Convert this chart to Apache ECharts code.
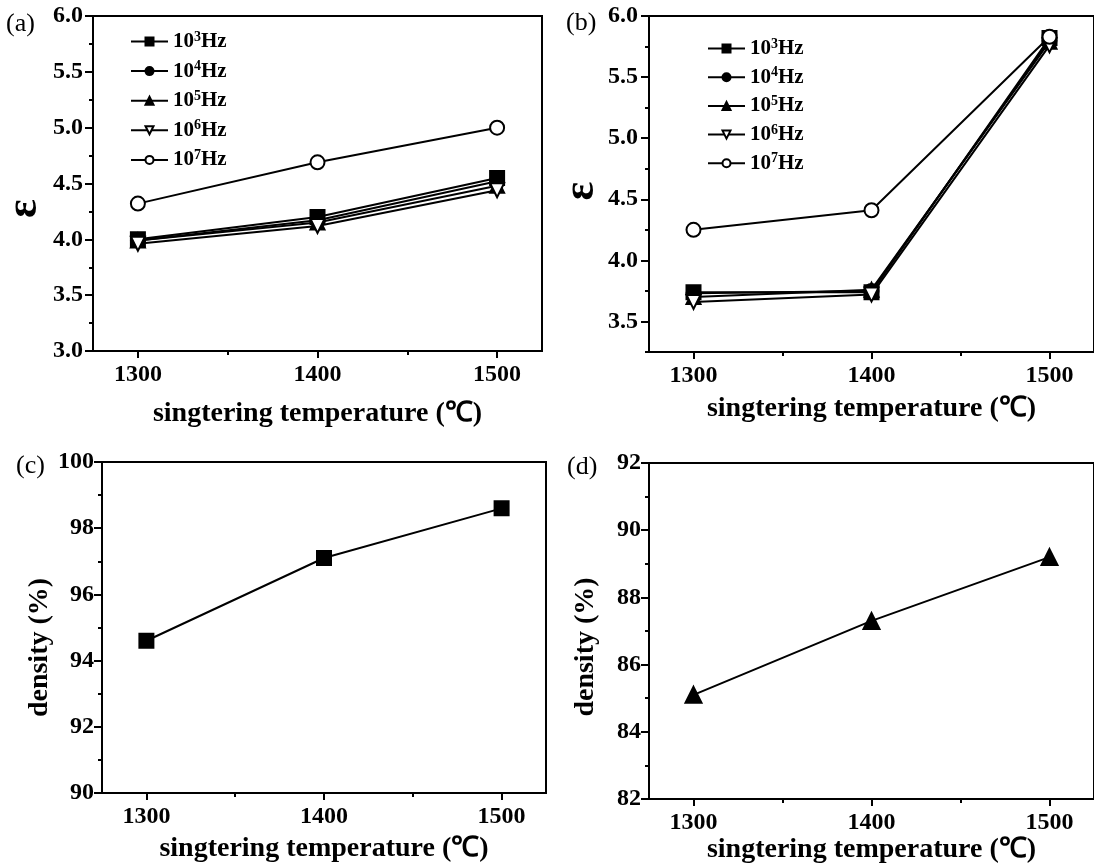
<!DOCTYPE html>
<html><head><meta charset="utf-8">
<script src="https://cdn.jsdelivr.net/npm/echarts@6/dist/echarts.min.js"></script>
<style>html,body{margin:0;padding:0;background:#fff}#c{width:1094px;height:868px}</style>
</head><body><div id="c"></div>
<script>
// ---- data ----
const temps = [1300, 1400, 1500];
const freqNames = ['10^3Hz', '10^4Hz', '10^5Hz', '10^6Hz', '10^7Hz'];
const epsA_1e3 = [4.00, 4.20, 4.55];
const epsA_1e4 = [3.99, 4.17, 4.52];
const epsA_1e5 = [3.99, 4.15, 4.48];
const epsA_1e6 = [3.96, 4.12, 4.44];
const epsA_1e7 = [4.32, 4.69, 5.00];
const epsB_1e3 = [3.74, 3.74, 5.82];
const epsB_1e4 = [3.73, 3.75, 5.80];
const epsB_1e5 = [3.70, 3.76, 5.79];
const epsB_1e6 = [3.66, 3.72, 5.76];
const epsB_1e7 = [4.25, 4.41, 5.83];
const densC = [94.6, 97.1, 98.6];
const densD = [85.1, 87.3, 89.2];
const xTickValues = [1300, 1400, 1500];
const xMinorValues = [1350, 1450];
const yTickValuesB = [3.5, 4.0, 4.5, 5.0, 5.5, 6.0];
const panelLabels = ['(a)', '(b)', '(c)', '(d)'];
const xTitle = 'singtering temperature (\u2103)';

// ---- styling helpers ----
const FONT = 'Liberation Serif';
const BLK = '#000';
const tickFont = {fontFamily: FONT, fontWeight: 'bold', fontSize: 24, color: BLK};
const nameFont = {fontFamily: FONT, fontWeight: 'bold', fontSize: 28, color: BLK};

const grids = [
  {left: 93, top: 16, width: 449, height: 335},
  {left: 649, top: 16, width: 450, height: 336},
  {left: 102, top: 462, width: 444, height: 331},
  {left: 649, top: 463, width: 450, height: 336}
].map(g => Object.assign({show: true, borderColor: BLK, borderWidth: 2, backgroundColor: 'transparent'}, g));

const xNameGaps = [49, 43, 42, 36];
const xAxes = [];
const yAxes = [];
for (let i = 0; i < 4; i++) {
  xAxes.push({
    type: 'value', gridIndex: i, position: 'bottom', min: 1275, max: 1525,
    axisLine: {show: true, lineStyle: {color: BLK, width: 2}},
    axisTick: {show: true, customValues: xTickValues, length: 7, lineStyle: {color: BLK, width: 2}},
    axisLabel: {show: true, customValues: xTickValues, margin: 12, formatter: v => String(v), ...tickFont},
    splitLine: {show: false},
    name: xTitle, nameLocation: 'middle', nameGap: xNameGaps[i], nameTextStyle: nameFont
  });
}
for (let i = 0; i < 4; i++) {
  xAxes.push({
    type: 'value', gridIndex: i, position: 'bottom', min: 1275, max: 1525,
    axisLine: {show: false},
    axisTick: {show: true, customValues: xMinorValues, length: 4, lineStyle: {color: BLK, width: 2}},
    axisLabel: {show: false}, splitLine: {show: false}
  });
}
const yCommon = {
  type: 'value', position: 'left',
  axisLine: {show: true, lineStyle: {color: BLK, width: 2}},
  axisTick: {show: true, length: 8, lineStyle: {color: BLK, width: 2}},
  minorTick: {show: true, splitNumber: 2, length: 4, lineStyle: {color: BLK, width: 2}},
  splitLine: {show: false}, minorSplitLine: {show: false}
};
const epsName = {fontFamily: FONT, fontWeight: 'bold', fontSize: 44, color: BLK};
yAxes.push(Object.assign({}, yCommon, {gridIndex: 0, min: 3, max: 6, interval: 0.5,
  axisLabel: {margin: 10, formatter: v => v.toFixed(1), ...tickFont},
  name: '\u03b5', nameLocation: 'middle', nameRotate: 90, nameGap: 46,
  nameTextStyle: Object.assign({padding: [0, 50, 0, 0]}, epsName)}));
yAxes.push(Object.assign({}, yCommon, {gridIndex: 1, min: 3.25, max: 6,
  minorTick: {show: false},
  axisTick: {show: true, customValues: yTickValuesB, length: 8, lineStyle: {color: BLK, width: 2}},
  axisLabel: {margin: 11, customValues: yTickValuesB, formatter: v => v.toFixed(1), ...tickFont},
  name: '\u03b5', nameLocation: 'middle', nameRotate: 90, nameGap: 44,
  nameTextStyle: Object.assign({padding: [0, 14, 0, 0]}, epsName)}));
yAxes.push(Object.assign({}, yCommon, {gridIndex: 2, min: 90, max: 100, interval: 2,
  axisLabel: {margin: 8, ...tickFont},
  name: 'density (%)', nameLocation: 'middle', nameRotate: 90, nameGap: 48,
  nameTextStyle: Object.assign({padding: [0, 40, 0, 0]}, nameFont)}));
yAxes.push(Object.assign({}, yCommon, {gridIndex: 3, min: 82, max: 92, interval: 2,
  axisLabel: {margin: 8, ...tickFont},
  name: 'density (%)', nameLocation: 'middle', nameRotate: 90, nameGap: 49,
  nameTextStyle: Object.assign({padding: [0, 32, 0, 0]}, nameFont)}));
// minor y ticks for panel (b)
yAxes.push({type: 'value', gridIndex: 1, position: 'left', min: 3.25, max: 6, interval: 0.25,
  axisLine: {show: false}, axisLabel: {show: false}, splitLine: {show: false},
  axisTick: {show: true, length: 4, lineStyle: {color: BLK, width: 2}}});

const symbols = ['rect', 'circle', 'triangle', 'emptyTriangle', 'emptyCircle'];
const rotates = [0, 0, 0, 180, 0];
function mk(name, arr, gi, k, size) {
  return {
    type: 'line', name: name, xAxisIndex: gi, yAxisIndex: gi,
    data: temps.map((t, j) => [t, arr[j]]),
    symbol: symbols[k], symbolRotate: rotates[k], symbolSize: size,
    lineStyle: {color: BLK, width: 2},
    itemStyle: {color: BLK, borderColor: BLK, borderWidth: 2},
    emphasis: {disabled: true}, animation: false, z: 2 + k
  };
}
const seriesA = [epsA_1e3, epsA_1e4, epsA_1e5, epsA_1e6, epsA_1e7];
const seriesB = [epsB_1e3, epsB_1e4, epsB_1e5, epsB_1e6, epsB_1e7];
const series = [];
seriesA.forEach((arr, k) => series.push(mk(freqNames[k], arr, 0, k, 14)));
seriesB.forEach((arr, k) => series.push(mk(freqNames[k], arr, 1, k, 14)));
series.push(mk('densityC', densC, 2, 0, 14));
series.push(mk('densityD', densD, 3, 2, 16));

const legendText = {
  fontFamily: FONT, fontWeight: 'bold', fontSize: 21, color: BLK,
  rich: {s: {fontFamily: FONT, fontWeight: 'bold', fontSize: 14, color: BLK, padding: [0, 0, 9, 0]}}
};
function legend(left, top, gap) {
  return {
    data: freqNames, orient: 'vertical', left: left, top: top,
    itemWidth: 37, itemHeight: 10, itemGap: gap, selectedMode: false,
    formatter: n => n.replace(/\^(\d)/, '{s|$1}'),
    textStyle: legendText, padding: 0
  };
}

const labelPos = [[6, 24], [566, 23], [16, 466], [567, 467]];
const graphic = panelLabels.map((t, i) => ({
  type: 'text', x: labelPos[i][0], y: labelPos[i][1],
  style: {text: t, font: 'normal 26px "Liberation Serif"', fill: BLK, textVerticalAlign: 'middle'}
}));

const chart = echarts.init(document.getElementById('c'), null, {renderer: 'canvas'});
chart.setOption({
  backgroundColor: '#fff', animation: false,
  grid: grids, xAxis: xAxes, yAxis: yAxes, series: series,
  legend: [legend(130, 30, 7.6), legend(707, 37, 6.7)],
  graphic: graphic
});
</script></body></html>
